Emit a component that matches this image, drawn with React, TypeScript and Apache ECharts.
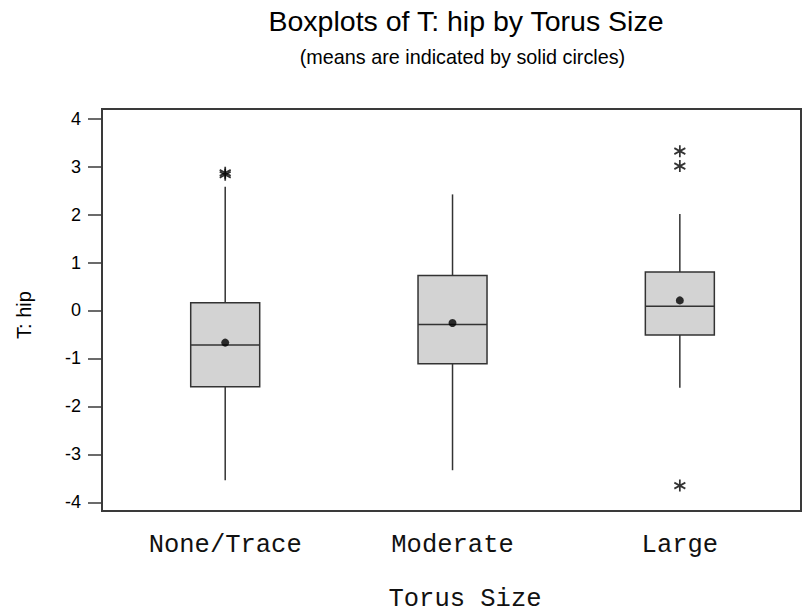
import React, { useEffect, useRef } from "react";
import * as echarts from "echarts";

const categories = ["None/Trace", "Moderate", "Large"];
const whiskerLow = [-3.54, -3.33, -1.61];
const q1 = [-1.59, -1.11, -0.51];
const median = [-0.72, -0.29, 0.09];
const q3 = [0.16, 0.73, 0.8];
const whiskerHigh = [2.58, 2.42, 2.01];
const means = [-0.67, -0.26, 0.21];
const outlierCat = [0, 0, 2, 2, 2];
const outlierVal = [2.87, 2.83, 3.32, 3.01, -3.65];
const yTicks = [-4, -3, -2, -1, 0, 1, 2, 3, 4];

const titleText = "Boxplots of T: hip by Torus Size";
const subtitleText = "(means are indicated by solid circles)";
const yTitle = "T: hip";
const xTitle = "Torus Size";

const SANS = "'Liberation Sans', Arial, sans-serif";
const MONO = "'Liberation Mono', 'Courier New', monospace";

export default function App() {
  const ref = useRef<HTMLDivElement>(null);
  useEffect(() => {
    if (!ref.current) return;
    const chart = echarts.init(ref.current, null, { renderer: "svg" });
    const boxData = categories.map((_, i) => [
      i + 1,
      whiskerLow[i],
      q1[i],
      median[i],
      q3[i],
      whiskerHigh[i],
    ]);
    const halfW = 34.5;
    const lineStyle = { stroke: "#333", lineWidth: 1.5 };
    chart.setOption({
      animation: false,
      backgroundColor: "#fff",
      grid: {
        left: 102,
        top: 109,
        width: 699,
        height: 402,
        show: true,
        borderColor: "#3a3a3a",
        borderWidth: 2,
        backgroundColor: "transparent",
      },
      xAxis: {
        type: "value",
        min: 0.458,
        max: 3.533,
        axisLine: { show: false },
        splitLine: { show: false },
        axisTick: {
          show: true,
          customValues: [1, 2, 3],
          length: 9,
          inside: false,
          lineStyle: { color: "#3a3a3a", width: 1.5 },
        },
        axisLabel: {
          customValues: [1, 2, 3],
          formatter: (v: number) => categories[Math.round(v) - 1] ?? "",
          fontFamily: MONO,
          fontSize: 25.5,
          color: "#111",
          margin: 21,
        },
      },
      yAxis: {
        type: "value",
        min: -4.18,
        max: 4.2,
        axisLine: { show: false },
        splitLine: { show: false },
        axisTick: {
          show: true,
          customValues: yTicks,
          length: 14,
          inside: false,
          lineStyle: { color: "#3a3a3a", width: 1.5 },
        },
        axisLabel: {
          customValues: yTicks,
          fontFamily: SANS,
          fontSize: 18,
          color: "#000",
          margin: 21,
        },
      },
      graphic: [
        {
          type: "text",
          x: 466,
          y: 20.5,
          style: {
            text: titleText,
            font: `28.5px ${SANS}`,
            fill: "#000",
            textAlign: "center",
            textVerticalAlign: "middle",
          },
        },
        {
          type: "text",
          x: 462.5,
          y: 57,
          style: {
            text: subtitleText,
            font: `19.8px ${SANS}`,
            fill: "#000",
            textAlign: "center",
            textVerticalAlign: "middle",
          },
        },
        {
          type: "text",
          x: 24,
          y: 315,
          rotation: Math.PI / 2,
          style: {
            text: yTitle,
            font: `20px ${SANS}`,
            fill: "#000",
            textAlign: "center",
            textVerticalAlign: "middle",
          },
        },
        {
          type: "text",
          x: 465,
          y: 599,
          style: {
            text: xTitle,
            font: `25.5px ${MONO}`,
            fill: "#111",
            textAlign: "center",
            textVerticalAlign: "middle",
          },
        },
      ],
      series: [
        {
          type: "custom",
          z: 2,
          data: boxData,
          encode: { x: 0, y: [1, 2, 3, 4, 5] },
          renderItem: (params: any, api: any) => {
            const x = api.value(0);
            const lo = api.coord([x, api.value(1)]);
            const b1 = api.coord([x, api.value(2)]);
            const md = api.coord([x, api.value(3)]);
            const b3 = api.coord([x, api.value(4)]);
            const hi = api.coord([x, api.value(5)]);
            return {
              type: "group",
              children: [
                {
                  type: "line",
                  shape: { x1: lo[0], y1: lo[1], x2: b1[0], y2: b1[1] },
                  style: lineStyle,
                },
                {
                  type: "line",
                  shape: { x1: b3[0], y1: b3[1], x2: hi[0], y2: hi[1] },
                  style: lineStyle,
                },
                {
                  type: "rect",
                  shape: {
                    x: b3[0] - halfW,
                    y: b3[1],
                    width: halfW * 2,
                    height: b1[1] - b3[1],
                  },
                  style: { fill: "#d3d3d3", stroke: "#333", lineWidth: 1.5 },
                },
                {
                  type: "line",
                  shape: {
                    x1: md[0] - halfW,
                    y1: md[1],
                    x2: md[0] + halfW,
                    y2: md[1],
                  },
                  style: lineStyle,
                },
              ],
            };
          },
        },
        {
          type: "scatter",
          z: 3,
          symbol: "circle",
          symbolSize: 8,
          itemStyle: { color: "#000" },
          data: means.map((m, i) => [i + 1, m]),
        },
        {
          type: "scatter",
          z: 3,
          symbol: "path://M0 -6 L0 6 M-5.2 -3 L5.2 3 M-5.2 3 L5.2 -3",
          symbolSize: [11, 12],
          itemStyle: {
            color: "transparent",
            borderColor: "#000",
            borderWidth: 1.8,
          },
          data: outlierVal.map((v, i) => [outlierCat[i] + 1, v]),
        },
      ],
    });
    return () => chart.dispose();
  }, []);
  return (
    <div
      ref={ref}
      style={{ position: "fixed", left: 0, top: 0, width: 805, height: 614 }}
    />
  );
}
